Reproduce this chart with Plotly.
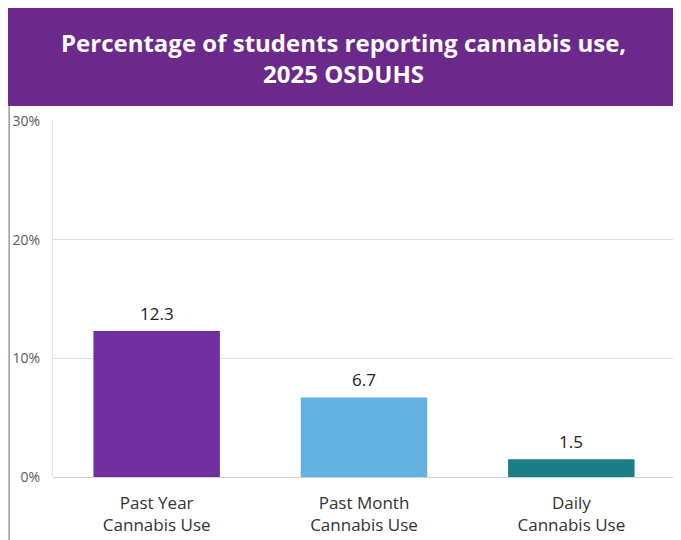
import plotly.graph_objects as go

categories = ["Past Year<br>Cannabis Use", "Past Month<br>Cannabis Use", "Daily<br>Cannabis Use"]
values = [12.3, 6.7, 1.5]
bar_colors = ["#7030A0", "#63B0E3", "#1B7E87"]
tick_vals = [0, 10, 20, 30]
tick_text = ["0%", "10%", "20%", "30%"]
title_text = "Percentage of students reporting cannabis use,<br>2025 OSDUHS"

FONT = "Open Sans, Calibri, sans-serif"

fig = go.Figure()
fig.add_trace(go.Bar(
    x=categories,
    y=values,
    marker=dict(color=bar_colors, line=dict(width=0)),
    width=0.61,
    hoverinfo="skip",
))

# value labels above the bars
for c, v in zip(categories, values):
    fig.add_annotation(
        x=c, y=v, text=f"{v:.1f}", showarrow=False,
        yanchor="bottom", yshift=4,
        font=dict(family=FONT, size=17, color="#222222"),
    )

# purple title banner
fig.add_shape(type="rect", xref="paper", yref="paper",
              x0=-0.077, x1=1.04, y0=1.042, y1=1.33,
              fillcolor="#6B2A8B", line=dict(width=0), layer="above")
fig.add_annotation(
    xref="paper", yref="paper", x=0.467, y=1.177,
    text=title_text, showarrow=False, align="center",
    xanchor="center", yanchor="middle",
    font=dict(family=FONT, size=24, color="white", weight="bold"),
)
# left border line of the picture frame
fig.add_shape(type="line", xref="paper", yref="paper",
              x0=-0.0705, x1=-0.0705, y0=-0.25, y1=1.042,
              line=dict(color="#9a9a9a", width=1.5))

# page body adds an 8px offset, so margins are shifted to compensate
fig.update_layout(
    width=681, height=540,
    margin=dict(l=45, r=14, t=113, b=71),
    paper_bgcolor="white", plot_bgcolor="white",
    showlegend=False,
    font=dict(family=FONT),
    bargap=0.39,
)
fig.update_xaxes(
    showgrid=False, showline=False, zeroline=False,
    ticks="", ticklabelstandoff=14, automargin=False,
    tickfont=dict(family=FONT, size=17, color="#333333"),
)
fig.update_yaxes(
    range=[0, 30], tickvals=tick_vals, ticktext=tick_text,
    showgrid=True, gridcolor="#dedede", gridwidth=1,
    zeroline=True, zerolinecolor="#d0d0d0", zerolinewidth=1,
    showline=True, linecolor="#e3e3e3", linewidth=1,
    ticks="", ticklabelstandoff=9, automargin=False,
    tickfont=dict(family=FONT, size=14, color="#595959"),
)

fig.write_html("out.html")
